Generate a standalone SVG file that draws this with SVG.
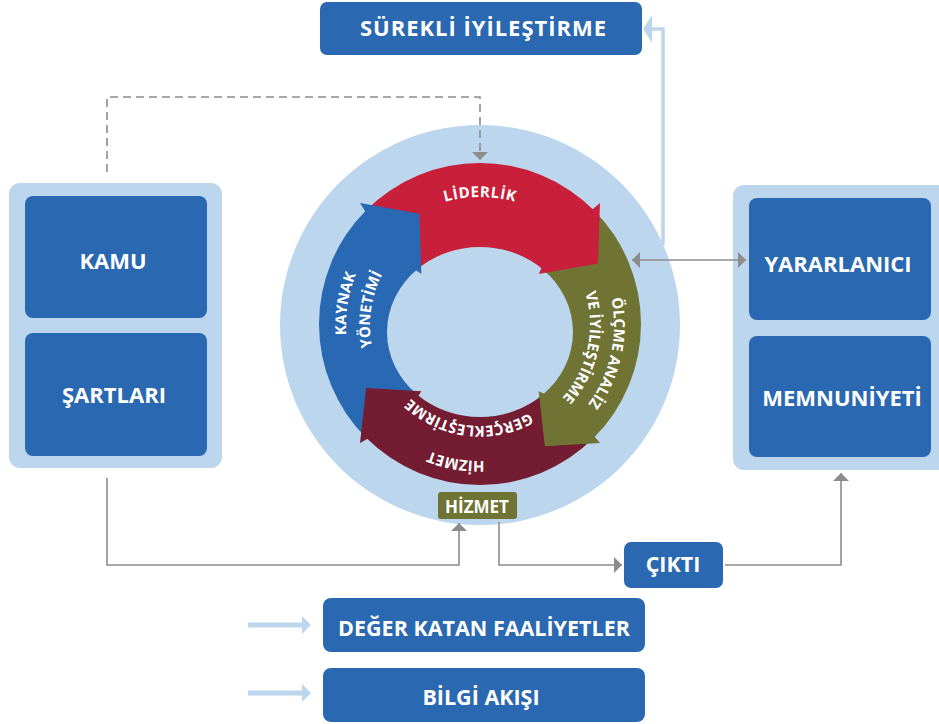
<svg xmlns="http://www.w3.org/2000/svg" width="939" height="724" viewBox="0 0 939 724">
<defs>
<style>
.lbl{font-family:"Open Sans","Liberation Sans",sans-serif;font-weight:700;fill:#fff;text-anchor:middle}
.box{fill:#2a69b1}
.panel{fill:#bcd6ee}
.gl{fill:none;stroke:#8c8c8c;stroke-width:1.6}
.ring{font-family:"Open Sans","Liberation Sans",sans-serif;font-weight:700;fill:#fff;font-size:15px}
</style>
<marker id="ga" viewBox="0 0 8 16" refX="8" refY="8" markerWidth="8" markerHeight="16" markerUnits="userSpaceOnUse" orient="auto-start-reverse">
<path d="M0,0 L8,8 L0,16 Z" fill="#8c8c8c"/>
</marker>
<path id="pLid" d="M369.15,261 A128,128 0 0 1 590.85,261"/>
<path id="pKay" d="M395.67,429.14 A134,134 0 0 1 431.98,199.9"/>
<path id="pYon" d="M412.28,411.68 A110,110 0 0 1 438.79,223.01"/>
<path id="pOlc" d="M570.36,226.05 A134,134 0 0 1 520.52,452.73"/>
<path id="pVe" d="M554.03,243.64 A110,110 0 0 1 513.44,429.79"/>
<path id="pHiz" d="M584.18,412.42 A136,136 0 0 1 352.2,371.51"/>
<path id="pGer" d="M560.66,385.78 A101,101 0 0 1 387.03,364.46"/>
</defs>
<rect width="939" height="724" fill="#fff"/>

<g id="cycle">
<circle cx="480" cy="325" r="200" fill="#bcd6ee"/>
<g id="seg-liderlik"><path d="M366.16,210.16 A161,161 0 0 1 593.84,210.16 L542.74,269.26 A93,85 0 0 0 417.26,269.26 Z" fill="#c8203a"/></g>
<g id="seg-olcme"><path d="M593.84,210.16 A161,161 0 0 1 593.84,437.84 L542.74,394.74 A93,85 0 0 0 542.74,269.26 Z" fill="#6f7333"/></g>
<g id="seg-hizmet"><path d="M593.84,437.84 A161,161 0 0 1 366.16,437.84 L417.26,394.74 A93,85 0 0 0 542.74,394.74 Z" fill="#731c32"/></g>
<g id="seg-kaynak"><path d="M366.16,437.84 A161,161 0 0 1 366.16,210.16 L417.26,269.26 A93,85 0 0 0 417.26,394.74 Z" fill="#2968b2"/></g>
<g id="heads">
<path d="M599.97,203.07 L598.05,263.38 L538.65,273.99 L541.6,268.3 L592.7,209.2 Z" fill="#c8203a"/>
<path d="M599.97,443.01 L544.81,446.2 L538.65,391.29 L543.7,393.6 L594.8,436.7 Z" fill="#6f7333"/>
<path d="M360.03,443.01 L366.19,388.1 L421.35,391.29 L418.2,395.9 L367.1,439 Z" fill="#731c32"/>
<path d="M360.03,203.07 L419.43,213.68 L421.35,273.99 L416.1,270.2 L365,211.1 Z" fill="#2968b2"/>
</g>
<text class="ring" font-size="15.5" letter-spacing="0.6"><textPath href="#pLid" startOffset="50%" text-anchor="middle">LİDERLİK</textPath></text>
<text class="ring"><textPath href="#pKay" startOffset="50%" text-anchor="middle">KAYNAK</textPath></text>
<text class="ring"><textPath href="#pYon" startOffset="50%" text-anchor="middle">YÖNETİMİ</textPath></text>
<text class="ring"><textPath href="#pOlc" startOffset="50%" text-anchor="middle">ÖLÇME ANALİZ</textPath></text>
<text class="ring"><textPath href="#pVe" startOffset="50%" text-anchor="middle">VE İYİLEŞTİRME</textPath></text>
<text class="ring"><textPath href="#pHiz" startOffset="50%" text-anchor="middle">HİZMET</textPath></text>
<text class="ring"><textPath href="#pGer" startOffset="50%" text-anchor="middle">GERÇEKLEŞTİRME</textPath></text>
</g>

<g id="hizmet">
<rect x="438" y="492" width="79" height="27" rx="3" fill="#6f7333"/>
<text class="lbl" x="477" y="513" font-size="17">HİZMET</text>
</g>

<g id="surekli">
<rect class="box" x="320" y="2" width="322" height="53" rx="7"/>
<text class="lbl" x="483" y="36" font-size="22" textLength="246" lengthAdjust="spacing">SÜREKLİ İYİLEŞTİRME</text>
</g>

<g id="kamu-sartlari">
<rect class="panel" x="9" y="183" width="213" height="285" rx="11"/>
<g id="kamu">
<rect class="box" x="25" y="196" width="182" height="122" rx="8"/>
<text class="lbl" x="113" y="269" font-size="22">KAMU</text>
</g>
<g id="sartlari">
<rect class="box" x="25" y="333" width="182" height="123" rx="8"/>
<text class="lbl" x="114" y="403" font-size="22">ŞARTLARI</text>
</g>
</g>

<g id="yararlanici-memnuniyeti">
<rect class="panel" x="733" y="185" width="230" height="285" rx="11"/>
<g id="yararlanici">
<rect class="box" x="749" y="198" width="182" height="122" rx="8"/>
<text class="lbl" x="838" y="272" font-size="22">YARARLANICI</text>
</g>
<g id="memnuniyeti">
<rect class="box" x="749" y="336" width="182" height="121" rx="8"/>
<text class="lbl" x="842" y="406" font-size="22">MEMNUNİYETİ</text>
</g>
</g>

<g id="cikti">
<rect class="box" x="624" y="542" width="99" height="46" rx="7"/>
<text class="lbl" x="673" y="572" font-size="21.5">ÇIKTI</text>
</g>

<g id="legend-deger">
<path d="M248,625 H303" stroke="#bcd6ee" stroke-width="5"/>
<path d="M311,625 L302,616 L302,634 Z" fill="#bcd6ee"/>
<rect class="box" x="323" y="598" width="322" height="54" rx="8"/>
<text class="lbl" x="484" y="636" font-size="21.5">DEĞER KATAN FAALİYETLER</text>
</g>

<g id="legend-bilgi">
<path d="M248,693 H303" stroke="#bcd6ee" stroke-width="5"/>
<path d="M311,693 L302,684 L302,702 Z" fill="#bcd6ee"/>
<rect class="box" x="323" y="668" width="322" height="54" rx="8"/>
<text class="lbl" x="481" y="705" font-size="21.5">BİLGİ AKIŞI</text>
</g>

<g id="connectors">
<path class="gl" d="M107,172 V97 H480 V160" stroke-dasharray="8 5" marker-end="url(#ga)"/>
<path class="gl" d="M107,478 V565 H459 V523" marker-end="url(#ga)"/>
<path class="gl" d="M499,522 V565 H622" marker-end="url(#ga)"/>
<path class="gl" d="M725,565 H841 V473" marker-end="url(#ga)"/>
<path class="gl" d="M632,260 H746" marker-start="url(#ga)" marker-end="url(#ga)"/>
<path d="M663,245 V29 H650" fill="none" stroke="#bcd6ee" stroke-width="3.5"/>
<path d="M643,29 L652,15 L652,43 Z" fill="#bcd6ee"/>
</g>
</svg>
